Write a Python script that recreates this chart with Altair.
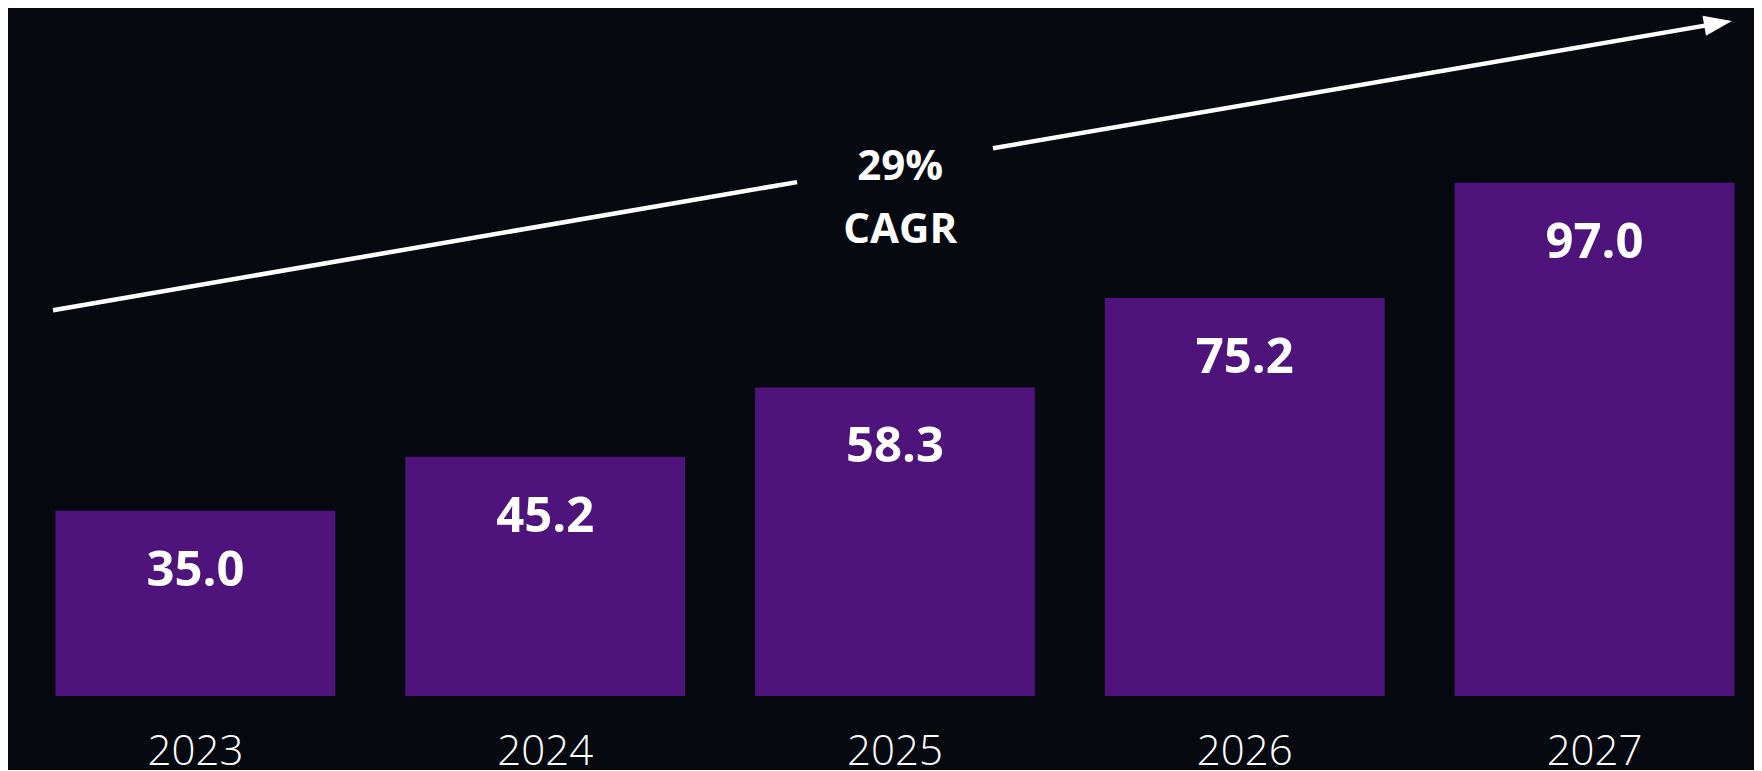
import altair as alt
import pandas as pd

# --- data ---
years = ["2023", "2024", "2025", "2026", "2027"]
values = [35.0, 45.2, 58.3, 75.2, 97.0]

cagr_text = ["29%", "CAGR"]
cagr_x = [2.015, 2.015]          # in bar-index units
cagr_y = [100.0, 88.0]           # in value units

# CAGR arrow (two segments, broken around the label), index / value units
arrow_x_start = [-0.407, 2.280]
arrow_x_end = [1.720, 4.353]
arrow_y_start = [72.9, 103.5]
arrow_y_end = [97.1, 127.1]
arrow_head_x = [4.353]
arrow_head_y = [127.1]

bars_df = pd.DataFrame({"year": years, "value": values})
cagr_df = pd.DataFrame({"t": cagr_text, "x": cagr_x, "y": cagr_y})
arrow_df = pd.DataFrame({"x": arrow_x_start, "x2": arrow_x_end,
                         "y": arrow_y_start, "y2": arrow_y_end})
head_df = pd.DataFrame({"x": arrow_head_x, "y": arrow_head_y})

BAR = "#4e147b"
FONT = "Open Sans"

yscale = alt.Scale(domain=[0, 130], nice=False, zero=True)
xband = alt.Scale(type="band", paddingInner=0.2, paddingOuter=0.05)
xlin = alt.Scale(domain=[-0.45, 4.45], nice=False, zero=False)

base = alt.Chart(bars_df).encode(
    x=alt.X("year:N", sort=years, scale=xband, title=None,
            axis=alt.Axis(domain=False, ticks=False, labelAngle=0,
                          labelFont=FONT, labelFontSize=42, labelFontWeight=300,
                          labelColor="white", labelPadding=35, grid=False)),
    y=alt.Y("value:Q", scale=yscale, axis=None),
)

bars = base.mark_bar(color=BAR)

vals = base.mark_text(
    color="white", font=FONT, fontSize=49, fontWeight="bold",
    baseline="middle", align="center", dy=60,
).encode(text=alt.Text("value:Q", format=".1f"))

bar_layer = alt.layer(bars, vals)

arrow = alt.Chart(arrow_df).mark_rule(color="white", strokeWidth=4.5).encode(
    x=alt.X("x:Q", scale=xlin, axis=None),
    x2="x2:Q",
    y=alt.Y("y:Q", scale=yscale, axis=None),
    y2="y2:Q",
)

head = alt.Chart(head_df).mark_point(
    shape="M1,0L-1,-0.72L-1,0.72Z", size=784, filled=True,
    color="white", opacity=1, angle=350.2, strokeWidth=0,
).encode(
    x=alt.X("x:Q", scale=xlin, axis=None),
    y=alt.Y("y:Q", scale=yscale, axis=None),
)

cagr = alt.Chart(cagr_df).mark_text(
    color="white", font=FONT, fontSize=42, fontWeight="bold",
    baseline="middle", align="center",
).encode(
    x=alt.X("x:Q", scale=xlin, axis=None),
    y=alt.Y("y:Q", scale=yscale, axis=None),
    text="t:N",
)

chart = alt.layer(bar_layer, arrow, head, cagr).resolve_scale(
    x="independent"
).properties(
    width=1714, height=688,
    autosize=alt.AutoSizeParams(type="none"),
    padding={"left": 30, "top": 0, "right": 2, "bottom": 74},
    background="#060a10",
).configure_view(stroke=None)

chart.save("out.html", embed_options={"renderer": "svg", "actions": False})
